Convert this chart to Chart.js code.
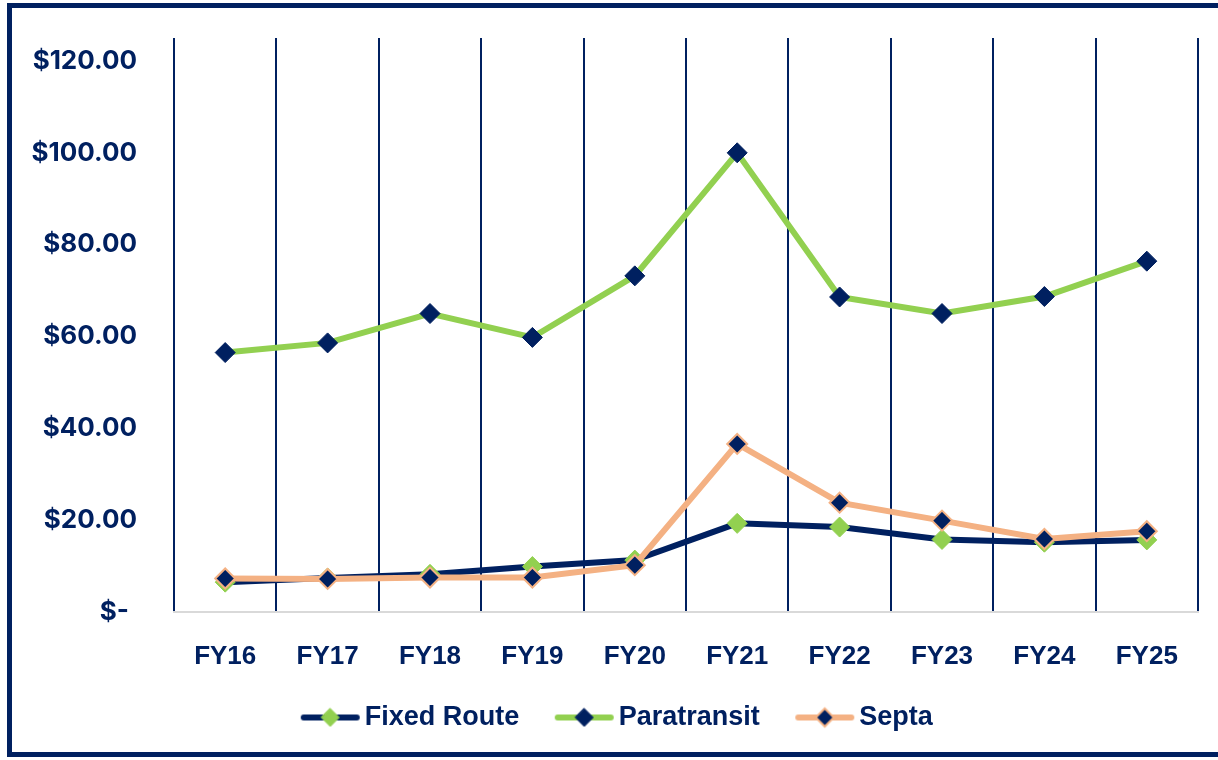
<!DOCTYPE html>
<html><head><meta charset="utf-8">
<script src="https://cdn.jsdelivr.net/npm/chart.js@4.4.1/dist/chart.umd.min.js"></script>
<style>
html,body{margin:0;padding:0;background:#fff;}
#wrap{position:absolute;left:0;top:0;width:1218px;height:760px;overflow:hidden;background:#fff;}
#frame{position:absolute;left:7px;top:3px;width:1240px;height:754px;border:5px solid #002060;box-sizing:border-box;}
#c{position:absolute;left:0;top:0;}
</style></head>
<body><div id="wrap"><div id="frame"></div><canvas id="c" width="1218" height="760"></canvas></div>
<script>
const categories = ['FY16','FY17','FY18','FY19','FY20','FY21','FY22','FY23','FY24','FY25'];
const fixedRoute = [6.5, 7.4, 8.2, 9.9, 11.3, 19.3, 18.5, 15.8, 15.2, 15.7];
const paratransit = [56.5, 58.6, 65.0, 59.8, 73.2, 100.0, 68.6, 65.0, 68.7, 76.4];
const septa = [7.3, 7.2, 7.5, 7.5, 10.2, 36.6, 23.8, 19.9, 15.9, 17.6];
const yTicks = [0, 20, 40, 60, 80, 100, 120];
const seriesNames = ['Fixed Route', 'Paratransit', 'Septa'];

const NAVY = '#002060', GREEN = '#92D050', PEACH = '#F4B183';
const FONT = {family: '"Liberation Sans", Arial, sans-serif', size: 26, weight: 'bold'};
const LFONT = {family: '"Liberation Sans", Arial, sans-serif', size: 27, weight: 'bold'};
const YFONT = {family: 'Inter, "Liberation Sans", sans-serif', size: 26, weight: 'bold'};

// legend icon geometry
const BOX = 66;            // layout box width used by Chart.js
const ICON_W = BOX + 19;   // canvas width (extends past the box so line ends ~4px before text)
const LINE_START = 25;     // where the visible sample starts inside the canvas
function legendIcon(lineColor, fill, stroke, sw) {
  const c = document.createElement('canvas');
  c.width = ICON_W; c.height = 24;
  const g = c.getContext('2d');
  g.strokeStyle = lineColor; g.lineWidth = 6; g.lineCap = 'round';
  g.beginPath(); g.moveTo(LINE_START + 3, 12); g.lineTo(ICON_W - 4, 12); g.stroke();
  const cx = (LINE_START + ICON_W - 1) / 2, r = 9;
  g.beginPath(); g.moveTo(cx, 12 - r); g.lineTo(cx + r, 12); g.lineTo(cx, 12 + r); g.lineTo(cx - r, 12); g.closePath();
  g.fillStyle = fill; g.fill();
  g.lineWidth = sw; g.strokeStyle = stroke; g.stroke();
  return c;
}
const icons = [
  legendIcon(NAVY, GREEN, GREEN, 1),
  legendIcon(GREEN, NAVY, NAVY, 1),
  legendIcon(PEACH, NAVY, PEACH, 2)
];

new Chart(document.getElementById('c'), {
  type: 'line',
  data: {
    labels: categories,
    datasets: [
      {label: seriesNames[0], data: fixedRoute, borderColor: NAVY, backgroundColor: GREEN, borderWidth: 6,
       pointStyle: 'rectRot', pointRadius: 10, pointBackgroundColor: GREEN, pointBorderColor: GREEN, pointBorderWidth: 1, order: 3},
      {label: seriesNames[1], data: paratransit, borderColor: GREEN, backgroundColor: NAVY, borderWidth: 6,
       pointStyle: 'rectRot', pointRadius: 10, pointBackgroundColor: NAVY, pointBorderColor: NAVY, pointBorderWidth: 1, order: 2},
      {label: seriesNames[2], data: septa, borderColor: PEACH, backgroundColor: NAVY, borderWidth: 6,
       pointStyle: 'rectRot', pointRadius: 10, pointBackgroundColor: NAVY, pointBorderColor: PEACH, pointBorderWidth: 2, order: 1}
    ]
  },
  options: {
    responsive: false,
    animation: false,
    layout: {padding: {left: 20, right: 20, top: 38, bottom: 19}},
    scales: {
      x: {
        offset: true,
        grid: {offset: true, color: NAVY, lineWidth: 2, drawTicks: false},
        border: {display: true, color: '#D9D9D9', width: 2},
        ticks: {color: NAVY, font: FONT, padding: 29},
        afterFit: s => { s.height = 72; }
      },
      y: {
        min: 0, max: 125,
        grid: {display: false, drawTicks: false},
        border: {display: false},
        afterBuildTicks: s => { s.ticks = yTicks.map(v => ({value: v})); },
        ticks: {color: NAVY, font: YFONT, padding: 37,
          callback: v => v === 0 ? '$-\u2009\u2009' : '$' + Number(v).toFixed(2)},
        afterFit: s => { s.width = 154; s.paddingTop = 0; s.paddingBottom = 0; }
      }
    },
    plugins: {
      tooltip: {enabled: false},
      legend: {
        position: 'bottom',
        labels: {
          usePointStyle: true, pointStyleWidth: BOX, padding: 20, color: NAVY, font: LFONT,
          sort: (a, b) => a.datasetIndex - b.datasetIndex,
          generateLabels: chart => Chart.defaults.plugins.legend.labels.generateLabels(chart)
            .map(l => Object.assign(l, {pointStyle: icons[l.datasetIndex]}))
        }
      }
    }
  }
});
</script></body></html>
